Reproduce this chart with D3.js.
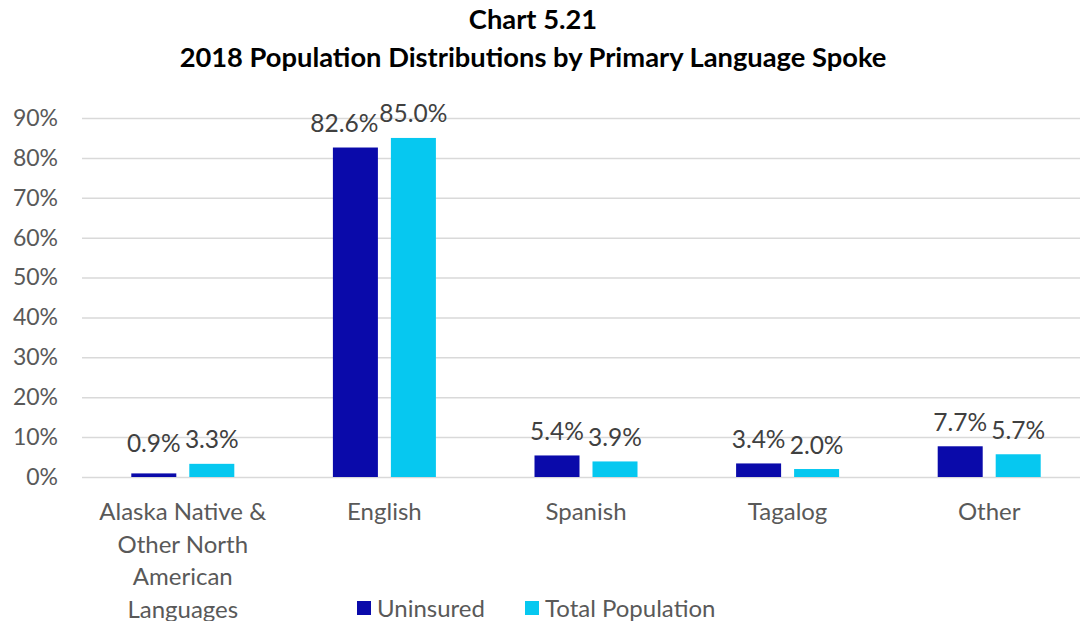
<!DOCTYPE html>
<html><head><meta charset="utf-8">
<script src="https://cdn.jsdelivr.net/npm/d3@7"></script>
<style>body{margin:0;background:#fff}svg{display:block;font-family:Lato,"Open Sans",sans-serif}</style>
</head><body><svg id="c" width="1080" height="621"></svg>
<script>
const categories = [["Alaska Native &","Other North","American","Languages"],["English"],["Spanish"],["Tagalog"],["Other"]];
const catKeys = ["Alaska","English","Spanish","Tagalog","Other"];
const uninsured = [0.9, 82.6, 5.4, 3.4, 7.7];
const totalPop = [3.3, 85.0, 3.9, 2.0, 5.7];
const seriesNames = ["Uninsured","Total Population"];
const colors = ["#0A0AAA","#06C8F0"];
const yTicks = [0,10,20,30,40,50,60,70,80,90];

(function(){
const svg = d3.select("#c");
const mLeft = 82, mRight = 1080, mTop = 118, mBottom = 477;
const x = d3.scaleBand().domain(catKeys).range([mLeft, 1090]);
const xs = d3.scaleBand().domain(seriesNames).range([0, x.bandwidth()]).paddingInner(0.224).paddingOuter(0.85);
const y = d3.scaleLinear().domain([0,90]).range([mBottom, mTop]);

svg.append("text").attr("x",533).attr("y",29).attr("text-anchor","middle").attr("font-weight","bold").attr("font-size",27.3).attr("fill","#000").text("Chart 5.21");
svg.append("text").attr("x",533).attr("y",67).attr("text-anchor","middle").attr("font-weight","bold").attr("font-size",27.3).attr("fill","#000").text("2018 Population Distributions by Primary Language Spoke");

const gy = svg.append("g").attr("transform",`translate(${mLeft},0)`)
  .call(d3.axisLeft(y).tickValues(yTicks).tickFormat(d=>d+"%").tickSize(-(mRight-mLeft)).tickPadding(24));
gy.select(".domain").remove();
gy.selectAll(".tick line").attr("stroke","#d9d9d9").attr("stroke-width",1.5);
gy.selectAll(".tick text").attr("font-size",23).attr("fill","#595959").attr("font-family","Lato,sans-serif");

const data = catKeys.map((k,i)=>({k, vals:[uninsured[i], totalPop[i]]}));
const g = svg.append("g");
data.forEach(d=>{
  d.vals.forEach((v,j)=>{
    const bx = x(d.k) + xs(seriesNames[j]);
    g.append("rect").attr("x",bx).attr("y",y(v)).attr("width",xs.bandwidth()).attr("height",y(0)-y(v)).attr("fill",colors[j]);
    g.append("text").attr("x",bx+xs.bandwidth()/2 + (d.k==="English"? (j===0?-11:0):0)).attr("y",y(v)-25 - (d.k==="Alaska"&&j===0?6:0))
      .attr("dominant-baseline","central").attr("text-anchor","middle").attr("font-size",24.5).attr("fill","#404040")
      .text(v.toFixed(1)+"%");
  });
});

const gx = svg.append("g");
categories.forEach((lines,i)=>{
  const cx = x(catKeys[i]) + x.bandwidth()/2;
  const t = gx.append("text").attr("x",cx).attr("y",520).attr("text-anchor","middle").attr("font-size",24).attr("fill","#595959");
  lines.forEach((l,li)=>t.append("tspan").attr("x",cx).attr("y",520+li*32.5).text(l));
});

const lg = svg.append("g");
const lx = [357, 525];
seriesNames.forEach((n,i)=>{
  lg.append("rect").attr("x",lx[i]).attr("y",601).attr("width",14).attr("height",14).attr("fill",colors[i]);
  lg.append("text").attr("x",lx[i]+20).attr("y",617).attr("font-size",24).attr("fill","#595959").text(n);
});
})();
</script></body></html>
